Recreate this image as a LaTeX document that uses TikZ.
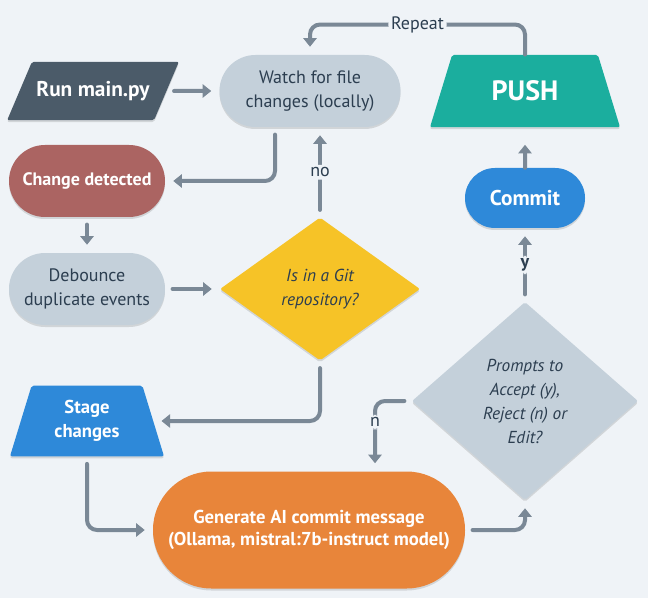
\documentclass[tikz,border=0pt]{standalone}
\usepackage{fontspec}
\setmainfont{PT Sans}
\usepackage{xcolor}
\usepackage{tikz}
\usetikzlibrary{shapes.geometric,arrows.meta,calc,shadows}

\definecolor{bgcol}{HTML}{EFF3F7}
\definecolor{textdark}{HTML}{2C3E50}
\definecolor{linecol}{HTML}{7A8896}
\definecolor{slatecol}{HTML}{4B5B69}
\definecolor{greycol}{HTML}{C4D0DA}
\definecolor{redcol}{HTML}{AB6462}
\definecolor{yellowcol}{HTML}{F6C327}
\definecolor{bluecol}{HTML}{2E89D9}
\definecolor{orangecol}{HTML}{E8853A}
\definecolor{tealcol}{HTML}{1BAE9E}

\begin{document}
\begin{tikzpicture}[x=0.75pt, y=-0.75pt,
    every node/.style={font=\fontsize{13.5}{18}\selectfont, text=textdark, align=center},
    boxshadow/.style={drop shadow={shadow xshift=0pt, shadow yshift=-1.5pt, opacity=0.12, fill=black}},
    pill/.style={rectangle, rounded corners=27pt, minimum width=117pt, minimum height=54pt, boxshadow},
    choice/.style={diamond, minimum width=150pt, minimum height=107.25pt, inner sep=0pt, rounded corners=1.5pt, font=\fontsize{13}{18}\selectfont\itshape, boxshadow},
    tray/.style={trapezium, trapezium left angle=73, trapezium right angle=73, trapezium stretches body=true,
        rounded corners=1.5pt, boxshadow},
    flow/.style={draw=linecol, line width=3pt, line cap=round, rounded corners=7.5pt,
        -{Triangle[width=10pt,length=6.5pt]}, shorten >=6pt, shorten <=5.5pt},
    lbl/.style={fill=bgcol, inner sep=2pt}]

    \useasboundingbox[fill=bgcol] (0,0) rectangle (648,598);

    % Start
    \node[trapezium, trapezium left angle=67, trapezium right angle=113, trapezium stretches body=true,
        minimum width=124.5pt, inner ysep=14.6pt, rounded corners=1.5pt, boxshadow,
        fill=slatecol, text=white, font=\fontsize{16}{18}\selectfont\bfseries] (run) at (93,91) {Run main.py};

    % Watching
    \node[pill, fill=greycol, minimum width=135.75pt] (watch) at (310,91) {Watch for file\\changes (locally)};
    \node[pill, fill=redcol, text=white, font=\fontsize{13.5}{18}\selectfont\bfseries] (change) at (87,181) {Change detected};
    \node[pill, fill=greycol] (debounce) at (87,289) {Debounce\\duplicate events};

    % Git check
    \node[choice, fill=yellowcol] (git) at (320,289) {Is in a Git\\repository?};

    % Staging and message
    \node[tray, fill=bluecol, minimum width=115.5pt, inner ysep=11pt, text=white, font=\fontsize{14}{18}\selectfont\bfseries] (stage) at (87,421) {Stage\\changes};
    \node[pill, fill=orangecol, minimum width=234pt, minimum height=87.75pt, rounded corners=43.8pt,
        text=white, font=\fontsize{14}{17}\selectfont\bfseries] (generate) at (309,530) {Generate AI commit message\\(Ollama, mistral:7b-instruct model)};

    % User prompt
    \node[choice, fill=greycol, minimum width=169.5pt, minimum height=148.5pt] (prompt) at (525,401) {Prompts to\\Accept (y),\\Reject (n) or\\Edit?};

    % Commit and push
    \node[pill, fill=bluecol, minimum width=90pt, minimum height=45pt, rounded corners=22.5pt,
        text=white, font=\fontsize{16}{18}\selectfont\bfseries] (commit) at (525,198) {Commit};
    \node[tray, fill=tealcol, minimum width=142.5pt, inner ysep=19.5pt, text=white, font=\fontsize{21}{24}\selectfont\bfseries] (push) at (525,91) {PUSH};

    % Arrows
    \draw[flow] (run) -- (watch);
    \draw[flow] ($(watch.south)+(-35,0)$) |- (change);
    \draw[flow] (change) -- (debounce);
    \draw[flow] (debounce) -- (git);
    \draw[flow] (git.north) -- node[lbl] {no} (git.north |- watch.south);
    \draw[flow] (git.south) |- (stage);
    \draw[flow] (stage.south) |- (generate);
    \draw[flow] (generate) -| (prompt.south);
    \draw[flow] (prompt.west) -| node[lbl, pos=0.65] {n} ($(generate.north)+(66,0)$);
    \draw[flow] (prompt) -- node[lbl, font=\fontsize{13.5}{18}\selectfont\bfseries] {y} (commit);
    \draw[flow, shorten <=0pt, shorten >=13pt] (commit) -- (push);
    \draw[flow, shorten <=0pt] (push.north) -- ++(0,-30) -| node[lbl, pos=0.25] {Repeat} (watch.north);
\end{tikzpicture}
\end{document}
